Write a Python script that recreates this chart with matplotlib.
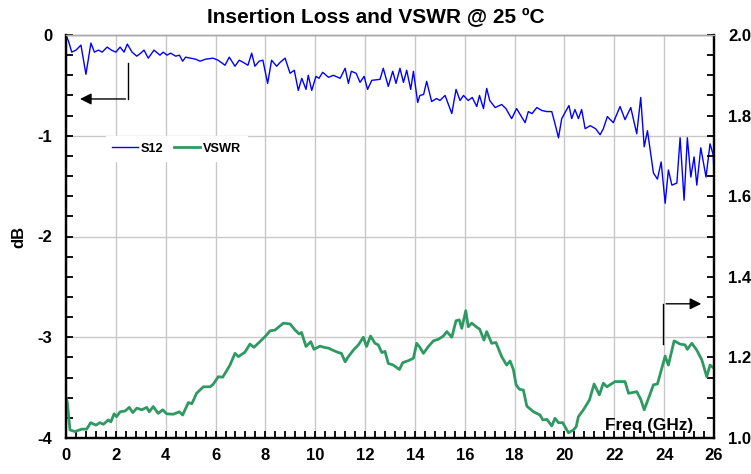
import matplotlib
matplotlib.use('Agg')
import matplotlib.pyplot as plt
from matplotlib.ticker import MultipleLocator, FormatStrFormatter

plt.rcParams['font.family'] = ['Liberation Sans', 'DejaVu Sans']
plt.rcParams['font.weight'] = 'bold'

title = "Insertion Loss and VSWR @ 25 ºC"

s12_freq = [0.0, 0.1, 0.23, 0.4, 0.6, 0.8, 1.0, 1.14, 1.3, 1.45, 1.65, 1.82, 2.0, 2.17, 2.33, 2.46,
            2.65, 2.84, 3.0, 3.13, 3.3, 3.53, 3.77, 3.9, 4.05, 4.2, 4.4, 4.55, 4.68, 4.8, 5.0, 5.2,
            5.38, 5.6, 5.9, 6.1, 6.38, 6.55, 6.78, 6.95, 7.1, 7.3, 7.45, 7.58, 7.75, 7.9, 8.09, 8.25,
            8.45, 8.6, 8.79, 8.99, 9.16, 9.32, 9.46, 9.63, 9.72, 9.86, 10.03, 10.15, 10.3, 10.53,
            10.73, 11.0, 11.2, 11.33, 11.45, 11.64, 11.8, 11.96, 12.1, 12.27, 12.6, 12.73, 12.93,
            13.11, 13.24, 13.4, 13.54, 13.67, 13.83, 13.94, 14.11, 14.2, 14.35, 14.47, 14.67, 14.87,
            15.0, 15.21, 15.48, 15.65, 15.81, 15.95, 16.14, 16.3, 16.48, 16.59, 16.75, 16.88, 17.0,
            17.22, 17.48, 17.65, 17.88, 18.08, 18.25, 18.42, 18.55, 18.7, 18.89, 19.1, 19.29, 19.49,
            19.62, 19.76, 19.89, 20.09, 20.18, 20.29, 20.42, 20.56, 20.69, 20.83, 21.03, 21.25,
            21.43, 21.56, 21.72, 21.96, 22.23, 22.43, 22.66, 22.9, 23.06, 23.2, 23.33, 23.57, 23.73,
            23.88, 24.04, 24.17, 24.31, 24.51, 24.64, 24.8, 24.93, 25.07, 25.2, 25.31, 25.47, 25.68,
            25.84, 25.97, 26.0]
s12_db = [0.0, -0.06, -0.17, -0.15, -0.1, -0.39, -0.08, -0.17, -0.15, -0.17, -0.12, -0.15, -0.17,
          -0.12, -0.17, -0.09, -0.17, -0.21, -0.18, -0.15, -0.23, -0.15, -0.2, -0.17, -0.2, -0.18,
          -0.21, -0.2, -0.26, -0.22, -0.23, -0.24, -0.26, -0.24, -0.23, -0.25, -0.3, -0.22, -0.31,
          -0.25, -0.27, -0.3, -0.18, -0.31, -0.26, -0.25, -0.48, -0.25, -0.31, -0.27, -0.23, -0.38,
          -0.35, -0.55, -0.43, -0.54, -0.4, -0.55, -0.41, -0.43, -0.37, -0.42, -0.4, -0.43, -0.33,
          -0.48, -0.36, -0.38, -0.47, -0.41, -0.54, -0.45, -0.44, -0.33, -0.51, -0.36, -0.48, -0.33,
          -0.47, -0.35, -0.54, -0.36, -0.67, -0.6, -0.59, -0.46, -0.66, -0.63, -0.65, -0.6, -0.78,
          -0.54, -0.65, -0.6, -0.65, -0.62, -0.71, -0.6, -0.73, -0.53, -0.65, -0.72, -0.69, -0.73,
          -0.83, -0.73, -0.8, -0.87, -0.76, -0.78, -0.72, -0.75, -0.76, -0.76, -0.88, -1.02, -0.83,
          -0.74, -0.7, -0.83, -0.74, -0.83, -0.74, -0.93, -0.9, -0.93, -0.99, -0.93, -0.81, -0.87,
          -0.71, -0.84, -0.72, -0.98, -0.62, -1.11, -0.95, -1.37, -1.43, -1.26, -1.67, -1.34, -1.49,
          -1.47, -1.02, -1.64, -1.02, -1.41, -1.21, -1.49, -1.12, -1.41, -1.08, -1.19, -1.37]

vswr_freq = [0.0, 0.05, 0.16, 0.36, 0.63, 0.83, 0.99, 1.2, 1.36, 1.5, 1.7, 1.8, 1.93, 2.03, 2.17,
             2.37, 2.54, 2.68, 2.84, 3.04, 3.24, 3.34, 3.5, 3.7, 3.88, 4.04, 4.3, 4.55, 4.68, 4.91,
             5.05, 5.24, 5.51, 5.78, 5.9, 6.11, 6.29, 6.58, 6.78, 6.92, 7.18, 7.38, 7.54, 7.78, 8.01,
             8.19, 8.39, 8.72, 8.99, 9.19, 9.36, 9.45, 9.63, 9.82, 9.95, 10.19, 10.35, 10.53, 10.7,
             10.93, 11.05, 11.2, 11.33, 11.53, 11.73, 11.93, 12.06, 12.22, 12.4, 12.53, 12.67, 12.8,
             12.93, 13.13, 13.38, 13.51, 13.74, 13.94, 14.07, 14.2, 14.34, 14.54, 14.74, 14.94,
             15.14, 15.28, 15.48, 15.65, 15.78, 15.88, 16.04, 16.14, 16.28, 16.48, 16.6, 16.77,
             16.88, 17.08, 17.25, 17.48, 17.68, 17.82, 17.95, 18.06, 18.19, 18.35, 18.49, 18.76,
             19.02, 19.13, 19.3, 19.49, 19.62, 19.76, 19.93, 20.16, 20.36, 20.47, 20.56, 20.76, 21.0,
             21.19, 21.4, 21.56, 21.7, 22.03, 22.43, 22.57, 22.75, 22.9, 23.06, 23.2, 23.37, 23.57,
             23.73, 24.04, 24.17, 24.4, 24.64, 24.84, 24.93, 25.11, 25.31, 25.51, 25.71, 25.84, 26.0]
vswr_val = [1.10, 1.09, 1.02, 1.016, 1.022, 1.022, 1.038, 1.032, 1.038, 1.034, 1.045, 1.04, 1.06,
            1.053, 1.065, 1.067, 1.076, 1.063, 1.074, 1.07, 1.076, 1.065, 1.078, 1.061, 1.07, 1.06,
            1.059, 1.065, 1.057, 1.088, 1.085, 1.111, 1.127, 1.127, 1.133, 1.152, 1.151, 1.181, 1.21,
            1.202, 1.213, 1.233, 1.225, 1.239, 1.253, 1.266, 1.268, 1.285, 1.283, 1.268, 1.258, 1.262,
            1.227, 1.239, 1.22, 1.228, 1.225, 1.223, 1.218, 1.212, 1.21, 1.189, 1.202, 1.218, 1.231,
            1.25, 1.227, 1.253, 1.235, 1.231, 1.212, 1.215, 1.185, 1.181, 1.17, 1.187, 1.192, 1.198,
            1.235, 1.225, 1.21, 1.227, 1.241, 1.245, 1.253, 1.264, 1.25, 1.291, 1.293, 1.272, 1.316,
            1.276, 1.285, 1.275, 1.27, 1.243, 1.264, 1.235, 1.237, 1.202, 1.181, 1.191, 1.17, 1.132,
            1.121, 1.119, 1.079, 1.065, 1.057, 1.045, 1.046, 1.03, 1.049, 1.038, 1.038, 1.013, 1.02,
            1.028, 1.053, 1.07, 1.094, 1.134, 1.107, 1.136, 1.127, 1.14, 1.14, 1.111, 1.113, 1.115,
            1.096, 1.07, 1.098, 1.132, 1.134, 1.203, 1.181, 1.241, 1.233, 1.231, 1.22, 1.235, 1.218,
            1.194, 1.152, 1.181, 1.173]

x_ticks = [0, 2, 4, 6, 8, 10, 12, 14, 16, 18, 20, 22, 24, 26]

fig = plt.figure(figsize=(7.51, 4.74), dpi=100)
ax = fig.add_axes([66/751, 36/474, 648/751, 403/474])
ax2 = ax.twinx()

blue = '#0000FF'
green = '#2E9A62'
grid_c = '#C8C8C8'

l1, = ax.plot(s12_freq, s12_db, color=blue, lw=1.0, label='S12')
l2, = ax2.plot(vswr_freq, vswr_val, color=green, lw=2.0, label='VSWR')

ax.set_xlim(0, 26)
ax.set_ylim(-4, 0)
ax2.set_ylim(1.0, 2.0)

ax.set_xticks(x_ticks)
ax.xaxis.set_minor_locator(MultipleLocator(0.4))
ax.yaxis.set_major_locator(MultipleLocator(1))
ax.yaxis.set_minor_locator(MultipleLocator(0.2))
ax2.yaxis.set_major_locator(MultipleLocator(0.2))
ax2.yaxis.set_minor_locator(MultipleLocator(0.05))
ax2.yaxis.set_major_formatter(FormatStrFormatter('%.1f'))
ax.yaxis.set_major_formatter(FormatStrFormatter('%d'))

ax.grid(True, which='major', color=grid_c, lw=1.0)
ax.set_axisbelow(True)

for a in (ax, ax2):
    a.tick_params(which='both', direction='in', length=5, width=1.3, color='black')
    a.tick_params(which='major', labelsize=12)
ax.tick_params(axis='x', pad=7)
ax.tick_params(axis='y', pad=10, left=True, right=False)
ax2.tick_params(axis='y', pad=10)

for a in (ax, ax2):
    a.spines['top'].set_color('#A8A8A8')
    a.spines['top'].set_linewidth(1.0)
    for s in ('left', 'bottom', 'right'):
        a.spines[s].set_color('black')
        a.spines[s].set_linewidth(1.6)

ax.set_ylabel('dB', fontsize=12, fontweight='bold', labelpad=8)
fig.suptitle(title, x=376/751, y=1 - 18/474, va='center', fontsize=15, fontweight='bold')

ax.text(0.9676, 0.012, 'Freq (GHz)', transform=ax.transAxes, ha='right', va='bottom',
        fontsize=12.4, fontweight='bold')

# direction arrows
ax.plot([2.5, 2.5], [-0.28, -0.635], color='black', lw=1.0)
ax.annotate('', xy=(0.45, -0.635), xytext=(2.5, -0.635),
            arrowprops=dict(arrowstyle='-|>', color='black', lw=1.0, mutation_scale=17))
ax2.plot([23.97, 23.97], [1.233, 1.333], color='black', lw=1.0)
ax2.annotate('', xy=(25.6, 1.333), xytext=(23.97, 1.333),
             arrowprops=dict(arrowstyle='-|>', color='black', lw=1.0, mutation_scale=17))

leg = ax.legend(handles=[l1, l2], loc='upper left', bbox_to_anchor=(0.0617, 0.749), ncol=2,
                frameon=True, fancybox=False, edgecolor='white', facecolor='white', framealpha=1,
                prop={'size': 9.2, 'weight': 'bold'}, handlelength=2.0, columnspacing=0.8,
                handletextpad=0.25, borderpad=0.5, borderaxespad=0)
leg.set_zorder(5)

fig.savefig('out.png', dpi=100)
